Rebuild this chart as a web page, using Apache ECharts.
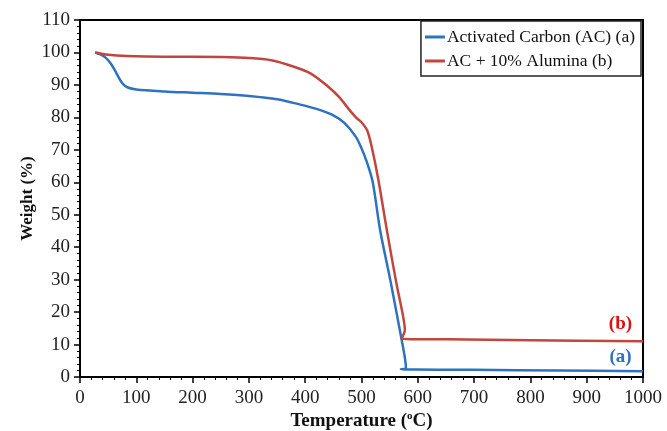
<!DOCTYPE html>
<html lang="en">
<head>
    <meta charset="UTF-8">
    <title>TGA</title>
    <script src="https://cdn.jsdelivr.net/npm/echarts@6/dist/echarts.min.js"></script>
    <style>
        html, body { margin: 0; padding: 0; background: #fff; }
        #main { width: 667px; height: 431px; }
    </style>
</head>
<body>
    <div id="main"></div>
    <script>
        // curve (a): activated carbon
        var tempA = [27, 35, 45, 55, 65, 75, 85, 100, 150, 200, 250, 300, 350, 390, 420, 450, 470, 490, 500, 510, 520, 533, 551, 568, 577, 579, 570, 700, 850, 1000];
        var weightA = [100, 99.5, 98.5, 96.5, 93.5, 90.5, 89.2, 88.6, 88.0, 87.6, 87.2, 86.6, 85.6, 84.0, 82.6, 80.6, 78.2, 74.0, 70.5, 66, 60, 45.3, 30, 14.5, 6, 2.6, 2.4, 2.2, 2.0, 1.8];
        // curve (b): AC + 10% alumina
        var tempB = [27, 50, 83, 150, 201, 250, 300, 340, 380, 410, 440, 460, 480, 490, 500, 510, 518, 530, 545, 562, 574, 577, 571, 650, 800, 1000];
        var weightB = [100, 99.3, 98.9, 98.7, 98.7, 98.6, 98.3, 97.6, 95.6, 93.5, 89.6, 86.3, 82, 80, 78.5, 76, 71, 60.7, 45.3, 28.9, 18.6, 14.5, 11.8, 11.6, 11.3, 11.0];
        var seriesNames = ['Activated Carbon (AC) (a)', 'AC + 10% Alumina (b)'];

        function pairs(xs, ys) {
            return xs.map(function (x, i) { return [x, ys[i]]; });
        }

        var serif = 'Liberation Serif';
        var myChart = echarts.init(document.getElementById('main'));

        var option = {
            animation: false,
            backgroundColor: '#fff',
            grid: {
                left: 80, right: 24, top: 20, bottom: 54,
                outerBoundsMode: 'none',
                show: true, borderColor: '#000', borderWidth: 2
            },
            legend: {
                orient: 'vertical',
                right: 26, top: 21,
                itemWidth: 20, itemHeight: 3, itemGap: 6,
                icon: 'rect',
                padding: [7, 6, 6, 4],
                borderColor: '#222', borderWidth: 1.5,
                backgroundColor: '#fff',
                textStyle: { fontFamily: serif, fontSize: 17.5, color: '#111', padding: [0, 0, 0, -3] },
                data: seriesNames
            },
            xAxis: {
                type: 'value', min: 0, max: 1000, interval: 100,
                name: 'Temperature ({sup|o}C)',
                nameLocation: 'middle', nameGap: 34,
                nameMoveOverlap: false,
                nameTextStyle: {
                    fontFamily: serif, fontSize: 19, fontWeight: 'bold', color: '#111',
                    rich: { sup: { fontFamily: serif, fontSize: 11, fontWeight: 'bold', padding: [0, 0, 9, 0] } }
                },
                axisLine: { lineStyle: { color: '#000', width: 2 } },
                axisTick: { length: 6, lineStyle: { color: '#000', width: 1.5 } },
                minorTick: { show: true, splitNumber: 5, length: 3, lineStyle: { color: '#000' } },
                axisLabel: {
                    fontFamily: serif, fontSize: 19, color: '#222', margin: 12,
                    formatter: function (v) { return String(v); }
                },
                splitLine: { show: false }
            },
            yAxis: {
                type: 'value', min: 0, max: 110, interval: 10,
                name: 'Weight (%)',
                nameLocation: 'middle', nameGap: 44,
                nameMoveOverlap: false,
                nameTextStyle: { fontFamily: serif, fontSize: 17, fontWeight: 'bold', color: '#111' },
                axisLine: { lineStyle: { color: '#000', width: 2 } },
                axisTick: { length: 6, lineStyle: { color: '#000', width: 1.5 } },
                minorTick: { show: true, splitNumber: 5, length: 3, lineStyle: { color: '#000' } },
                axisLabel: { fontFamily: serif, fontSize: 19, color: '#222', margin: 10 },
                splitLine: { show: false }
            },
            series: [{
                name: seriesNames[0],
                type: 'line',
                data: pairs(tempA, weightA),
                showSymbol: false,
                smooth: 0.3,
                color: '#2F72BF',
                lineStyle: { width: 2.5 },
                markPoint: {
                    symbol: 'circle', symbolSize: 0,
                    label: { show: true, formatter: '(a)', fontFamily: serif, fontWeight: 'bold', fontSize: 19, color: '#2F72BF' },
                    data: [{ coord: [960, 6.0] }]
                }
            }, {
                name: seriesNames[1],
                type: 'line',
                data: pairs(tempB, weightB),
                showSymbol: false,
                smooth: 0.3,
                color: '#C0463E',
                lineStyle: { width: 2.5 },
                markPoint: {
                    symbol: 'circle', symbolSize: 0,
                    label: { show: true, formatter: '(b)', fontFamily: serif, fontWeight: 'bold', fontSize: 19, color: '#E01010' },
                    data: [{ coord: [960, 16.4] }]
                }
            }]
        };
        myChart.setOption(option);
    </script>
</body>
</html>
